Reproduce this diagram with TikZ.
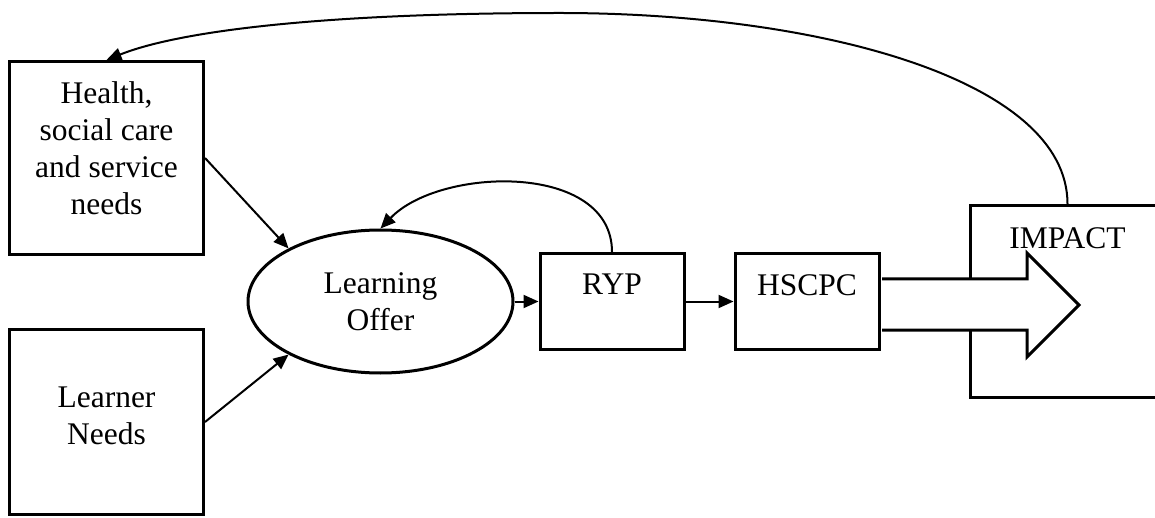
\documentclass[tikz,border=0pt]{standalone}
\usepackage{fontspec}
\setmainfont{Liberation Serif}
\usepackage{tikz}
\usetikzlibrary{calc, positioning, arrows.meta, shapes.geometric}
\tikzset{
    box/.style={rectangle, draw=black, line width=3pt, fill=white, align=center, minimum width=194pt, inner ysep=0pt, font=\fontsize{31.5}{37}\selectfont},
    offer/.style={ellipse, draw=black, line width=3pt, align=center, minimum width=265pt, minimum height=143pt, inner sep=0pt, font=\fontsize{31.5}{37}\selectfont},
    arrow/.style={-{Triangle[length=15pt, width=13pt]}, line width=2pt},
    bigarrow/.style={draw=black, line width=3pt, fill=white}
}
\begin{document}
\begin{tikzpicture}[x=1pt, y=-1pt]
        \clip (0,0) rectangle (1155,518);
        
        % Needs
        \node[box, anchor=north west, text height=153pt, text depth=40pt] (Health) at (8,60) {Health,\\social care\\and service\\needs};
        \node[box, below=72pt of Health, text height=115pt, text depth=70pt] (Learner) {Learner\\Needs};
        
        % Offer and outcomes
        \node[offer] (Offer) at (380.5,301.5) {Learning\\Offer};
        \node[box, right=24pt of Offer, minimum width=144pt, text height=41pt, text depth=55pt] (RYP) {RYP};
        \node[box, right=48pt of RYP, minimum width=144pt, text height=41pt, text depth=54pt] (HSCPC) {HSCPC};
        
        % Impact
        \node[box, anchor=north west, text height=43pt, text depth=149pt] (Impact) at (969,204) {IMPACT};
        \draw[bigarrow] ($(HSCPC.east)+(1.5,-22.5)$) -- (1027,279) -- (1027,253) -- (1079,305) -- (1027,357) -- (1027,330) -- ($(HSCPC.east)+(1.5,28.5)$);
        
        \draw[arrow] (Health.east) -- (Offer.150);
        \draw[arrow] (Learner.east) -- (Offer.210);
        \draw[arrow] (Offer.east) -- (RYP.west);
        \draw[arrow] (RYP.east) -- (HSCPC.west);
        
        % Feedback loops
        \draw[arrow] (RYP.north) .. controls ($(RYP.north)+(0,-90)$) and ($(Offer.north)+(59.5,-62)$) .. (Offer.north);
        \coordinate (Top) at (560,13);
        \draw[arrow] (Impact.north) .. controls ($(Impact.north)+(0,-124)$) and ($(Top)+(260,0)$) .. (Top) .. controls ($(Top)+(-230,0)$) and ($(Health.north)+(75,-30)$) .. (Health.north);
    \end{tikzpicture}
\end{document}
